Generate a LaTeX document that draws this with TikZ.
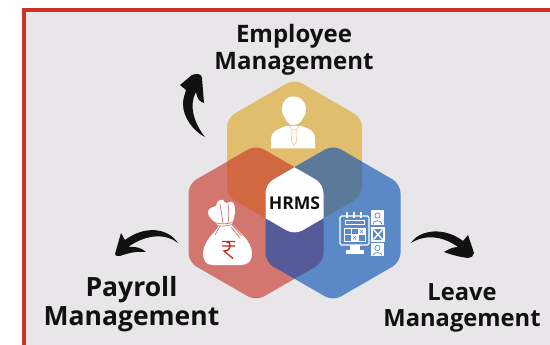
\documentclass[tikz,border=0pt]{standalone}
\usepackage{fontspec}
\setmainfont{Open Sans}
\definecolor{bgc}{HTML}{E8E6E8}
\definecolor{redb}{HTML}{CC3325}
\definecolor{yel}{HTML}{E0BE6E}
\definecolor{redh}{HTML}{D3766F}
\definecolor{blu}{HTML}{5B88C6}
\definecolor{yr}{HTML}{D2683F}
\definecolor{yb}{HTML}{5B7A9A}
\definecolor{rb}{HTML}{545B98}
\definecolor{ink}{HTML}{111111}
\definecolor{rup}{HTML}{C9281E}
\tikzset{
 lab/.style={text=ink,align=center,inner sep=0pt},
 icon/.style={fill=white,draw=none},
 iconline/.style={draw=white,line width=1.1pt,fill=none},
 personline/.style={draw=blu,line width=0.7pt,fill=none},
 tieline/.style={draw=yel,line width=0.45pt,fill=none},
 bagline/.style={draw=redh,line width=0.7pt},
 arrowshape/.style={fill=ink,draw=none}
}
\newcommand{\hexa}[2]{(#1,#2-78) -- (#1+67.5,#2-39) -- (#1+67.5,#2+39) -- (#1,#2+78) -- (#1-67.5,#2+39) -- (#1-67.5,#2-39) -- cycle}
\begin{document}
\begin{tikzpicture}[x=1pt,y=-1pt]
\useasboundingbox (0,0) rectangle (550,345);
\fill[white] (0,0) rectangle (550,345);
\fill[bgc] (24,10) rectangle (550,345);
\fill[redb] (22,8) rectangle (550,12);
\fill[redb] (22,8) rectangle (26,345);
\begin{scope}[rounded corners=9pt]
\fill[yel] \hexa{294.5}{157};
\fill[redh] \hexa{256}{223};
\fill[blu] \hexa{333}{223};
\begin{scope}
 \clip \hexa{294.5}{157};
 \fill[yr] \hexa{256}{223};
 \fill[yb] \hexa{333}{223};
\end{scope}
\begin{scope}
 \clip \hexa{256}{223};
 \fill[rb] \hexa{333}{223};
 \begin{scope}
  \clip \hexa{333}{223};
  \fill[white] \hexa{294.5}{157};
 \end{scope}
\end{scope}
\end{scope}
\node[font=\bfseries\fontsize{17.6}{21}\selectfont,text=ink,inner sep=0pt] (hrms) at (294.5,203) {HRMS};
\node[lab,font=\bfseries\fontsize{24}{27}\selectfont] (emp) at (294,49.5) {Employee\\Management};
\node[lab,font=\bfseries\fontsize{26.5}{29.5}\selectfont] (pay) at (131.5,304) {Payroll\\Management};
\node[lab,font=\bfseries\fontsize{23.7}{26.5}\selectfont] (lea) at (462,308) {Leave\\Management};
% person
\fill[icon] (293.5,96.5) .. controls (286,96.5) and (282,102) .. (282,109) .. controls (282,113) and (283,116) .. (285,118) .. controls (287,123) and (290,125) .. (293.5,125) .. controls (297,125) and (301,123) .. (303,118) .. controls (305,116) and (306,113) .. (306,109) .. controls (306,102) and (301,96.5) .. (293.5,96.5) -- cycle;
\fill[icon] (271,148.5) -- (271,139) .. controls (271,132) and (276,130) .. (286,126) -- (302,126) .. controls (312,130) and (315,132) .. (315,139) -- (315,148.5) -- cycle;
\draw[tieline] (289,125.5) -- (291.5,129.5) -- (296.5,129.5) -- (299,125.5);
\draw[tieline] (292,129.5) -- (291.5,142) -- (294,145) -- (296.5,142) -- (296,129.5);
% money bag
\fill[icon] (215,222) .. controls (211,219) and (208,216) .. (208,212) .. controls (208,209) and (212,207) .. (216,206) .. controls (217,201) and (220,199) .. (223,200) .. controls (225,203) and (226,203) .. (227,203) .. controls (229,201) and (232,201) .. (234,204) .. controls (236,209) and (235,217) .. (232,224) .. controls (238,232) and (252,240) .. (252,254) .. controls (252,261) and (248,265) .. (241,265) -- (212,265) .. controls (206,265) and (203,260) .. (203,253) .. controls (204,240) and (215,233) .. (218,226) -- cycle;
\draw[bagline] (213,222) .. controls (220,225) and (228,224) .. (234,222);
\draw[bagline] (214,225) .. controls (221,227) and (228,226) .. (234,224);
\draw[bagline] (220,226) -- (215,235) (218,226) -- (213,233);
\draw[bagline] (232,225) -- (242,236) (231,227) -- (240,238);
\draw[bagline] (220,204) .. controls (221,210) and (222,217) .. (223,223) (228,204) .. controls (229,210) and (229,217) .. (228,223);
\draw[rup,line width=1.3pt,line join=miter] (222,241.5) -- (235,241.5) (222,246) -- (235,246) (226,241.5) .. controls (232,241.5) and (232,251) .. (224,251) -- (233,258.5);
% calendar
\draw[iconline,rounded corners=1.5pt] (340,216) rectangle (369,245);
\fill[icon] (350,245) rectangle (360,251);
\fill[icon] (346,250) rectangle (364,254);
\draw[white,line width=1.2pt] (347,212) -- (347,218) (354,212) -- (354,218) (361,212) -- (361,218);
\draw[iconline,line width=0.9pt] (345.5,220.5) rectangle (364.5,224);
\draw[iconline,line width=0.9pt] (344,228) rectangle (365,241) (351,228) -- (351,241) (358,228) -- (358,241) (344,234.5) -- (365,234.5);
\fill[icon] (358,228) rectangle (365,234.5);
\fill[icon] (351,234.5) rectangle (358,241);
\draw[blu,line width=0.5pt] (360,230) -- (363,233) (363,230) -- (360,233) (353,236) -- (356,239.5) (356,236) -- (353,239.5);
% people boxes
\fill[icon] (371,210) rectangle (384,225);
\fill[icon] (371,243) rectangle (384,255.5);
\draw[iconline] (372,228) rectangle (384,241);
\draw[white,line width=1.4pt] (373.5,229.5) -- (382.5,239.5) (382.5,229.5) -- (373.5,239.5);
\draw[personline] (377.5,215.5) circle (2.6pt);
\draw[personline] (377.5,248) circle (2.6pt);
\draw[personline] (373,224.5) .. controls (373,219.5) and (382,219.5) .. (382,224.5);
\draw[personline] (373,255.5) .. controls (373,251.5) and (382,251.5) .. (382,255.5);
% arrows
\fill[arrowshape] (205,137) .. controls (193,131) and (183,117) .. (183,104) .. controls (183,98) and (185,94) .. (186,90) -- (180,85) -- (192,75) .. controls (197,73) and (202,74) .. (202,78) -- (204,103) .. controls (200,102) and (197,99) .. (196,92) .. controls (189,104) and (193,122) .. (205,137) -- cycle;
\fill[arrowshape] (178,243) .. controls (167,234) and (148,233) .. (128,247) .. controls (135,246) and (142,248) .. (146,252) .. controls (137,251) and (128,253) .. (120,256) .. controls (117,256) and (115,256) .. (115,254) -- (121,233) -- (125,240) .. controls (145,225) and (168,228) .. (178,243) -- cycle;
\fill[arrowshape] (411,243) .. controls (420,229) and (445,227) .. (463,241) -- (468,235) -- (474,253) .. controls (474,256) and (471,258) .. (468,258) .. controls (460,257) and (452,255) .. (444,252) .. controls (449,249) and (453,247) .. (458,247) .. controls (443,236) and (425,234) .. (411,243) -- cycle;
\end{tikzpicture}
\end{document}
